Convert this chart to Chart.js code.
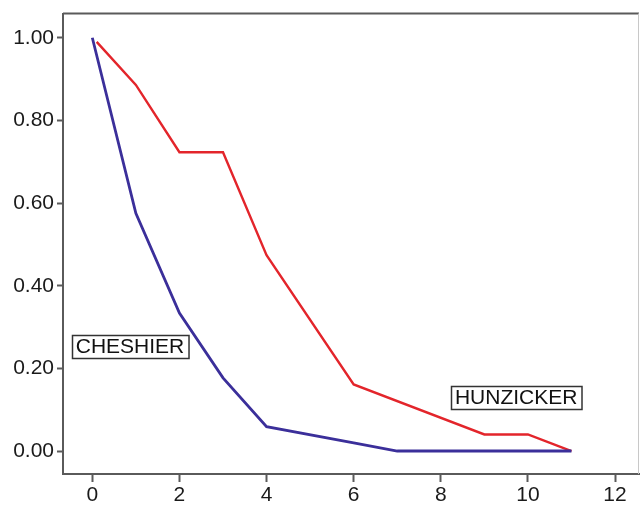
<!DOCTYPE html>
<html>
<head>
<meta charset="utf-8">
<script src="https://cdn.jsdelivr.net/npm/chart.js@4/dist/chart.umd.min.js"></script>
<style>
  html, body { margin: 0; padding: 0; background: #fff; }
  #wrap { width: 640px; height: 505px; }
</style>
</head>
<body>
<div id="wrap"><canvas id="c" width="640" height="505"></canvas></div>
<script>
// Survival-style curves for the two series
const cheshierX = [0, 1, 2, 3, 4, 6, 7, 11];
const cheshierY = [1.00, 0.575, 0.334, 0.177, 0.059, 0.02, 0.00, 0.00];
const hunzickerX = [0.1, 1, 2, 3, 4, 6, 9, 10, 11];
const hunzickerY = [0.99, 0.886, 0.723, 0.723, 0.474, 0.161, 0.04, 0.04, 0.00];

// Axis ticks
const xTicks = [0, 2, 4, 6, 8, 10, 12];
const yTicks = [0.00, 0.20, 0.40, 0.60, 0.80, 1.00];

// Boxed series labels, anchored in data units
const seriesLabels = ['CHESHIER', 'HUNZICKER'];
const labelAnchorX = [0.865, 9.73];
const labelAnchorY = [0.254, 0.13];

const FONT = '"Liberation Sans", Arial, Helvetica, sans-serif';
const AXIS = '#5a5a5a';

const toPoints = (xs, ys) => xs.map((x, i) => ({ x: x, y: ys[i] }));

const frame = {
  id: 'frame',
  beforeDatasetsDraw(chart) {
    const { ctx, chartArea: a } = chart;
    ctx.save();
    ctx.strokeStyle = AXIS;
    ctx.lineWidth = 2;
    ctx.beginPath();
    ctx.moveTo(a.left, a.top);
    ctx.lineTo(a.right, a.top);
    ctx.stroke();
    ctx.strokeStyle = '#c8c8c8';
    ctx.lineWidth = 1;
    ctx.beginPath();
    ctx.moveTo(a.right - 0.5, a.top);
    ctx.lineTo(a.right - 0.5, a.bottom);
    ctx.stroke();
    ctx.restore();
  }
};

const boxedLabels = {
  id: 'boxedLabels',
  afterDatasetsDraw(chart) {
    const { ctx, scales } = chart;
    ctx.save();
    ctx.font = '21px ' + FONT;
    ctx.textAlign = 'center';
    ctx.textBaseline = 'middle';
    seriesLabels.forEach((txt, i) => {
      const cx = scales.x.getPixelForValue(labelAnchorX[i]);
      const cy = scales.y.getPixelForValue(labelAnchorY[i]);
      const w = ctx.measureText(txt).width + 8;
      const h = 23;
      const x0 = Math.round(cx - w / 2) + 0.5;
      const y0 = Math.round(cy - h / 2) + 0.5;
      ctx.fillStyle = '#fff';
      ctx.fillRect(x0, y0, w, h);
      ctx.strokeStyle = '#333';
      ctx.lineWidth = 1.5;
      ctx.strokeRect(x0, y0, w, h);
      ctx.fillStyle = '#111';
      ctx.fillText(txt, cx, cy + 1);
    });
    ctx.restore();
  }
};

new Chart(document.getElementById('c'), {
  type: 'line',
  data: {
    datasets: [
      {
        label: 'CHESHIER',
        data: toPoints(cheshierX, cheshierY),
        borderColor: '#3b2f9a',
        borderWidth: 2.8,
        pointRadius: 0,
        tension: 0,
        fill: false
      },
      {
        label: 'HUNZICKER',
        data: toPoints(hunzickerX, hunzickerY),
        borderColor: '#e3252b',
        borderWidth: 2.4,
        pointRadius: 0,
        tension: 0,
        fill: false
      }
    ]
  },
  options: {
    responsive: false,
    animation: false,
    devicePixelRatio: 1,
    layout: { padding: { top: 13, right: 1, left: 0, bottom: 0 } },
    plugins: { legend: { display: false }, tooltip: { enabled: false } },
    scales: {
      x: {
        type: 'linear',
        min: -0.673,
        max: 12.55,
        afterBuildTicks: s => { s.ticks = xTicks.map(v => ({ value: v })); },
        afterFit: s => { s.height = 31; },
        grid: { drawOnChartArea: false, drawTicks: true, tickLength: 8, tickColor: AXIS, tickWidth: 2 },
        border: { display: true, color: AXIS, width: 2 },
        ticks: {
          padding: 3,
          color: '#1a1a1a',
          font: { family: FONT, size: 21, lineHeight: 1 },
          callback: v => String(v)
        }
      },
      y: {
        type: 'linear',
        min: -0.0556,
        max: 1.0587,
        afterBuildTicks: s => { s.ticks = yTicks.map(v => ({ value: v })); },
        afterFit: s => { s.width = 63; },
        grid: { drawOnChartArea: false, drawTicks: true, tickLength: 6, tickColor: AXIS, tickWidth: 2 },
        border: { display: true, color: AXIS, width: 2 },
        ticks: {
          padding: 3,
          color: '#1a1a1a',
          font: { family: FONT, size: 21, lineHeight: 1 },
          callback: v => Number(v).toFixed(2)
        }
      }
    }
  },
  plugins: [frame, boxedLabels]
});
</script>
</body>
</html>
